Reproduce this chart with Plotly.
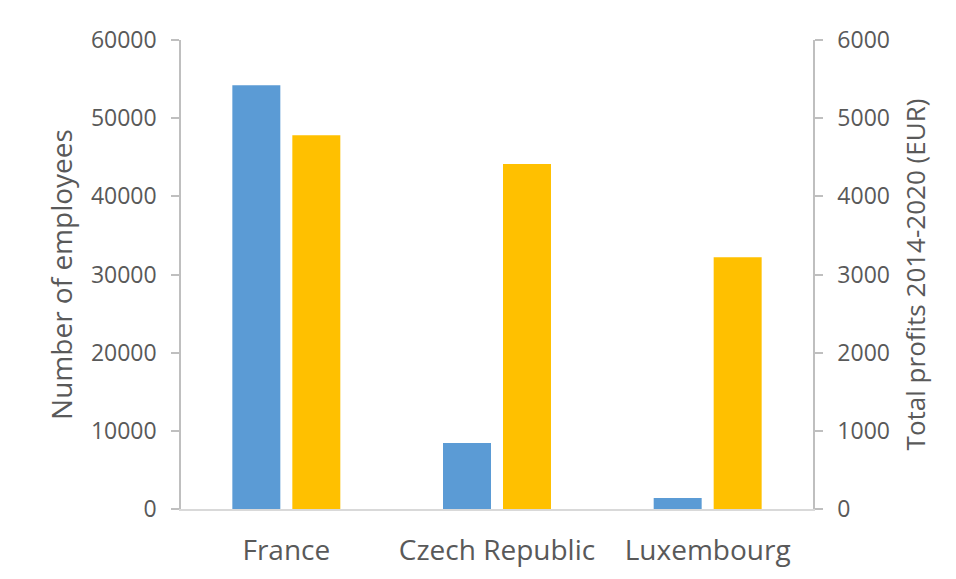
import plotly.graph_objects as go

countries = ["France", "Czech Republic", "Luxembourg"]
employees = [54200, 8450, 1400]
profits = [4780, 4415, 3220]

left_ticks = [0, 10000, 20000, 30000, 40000, 50000, 60000]
right_ticks = [0, 1000, 2000, 3000, 4000, 5000, 6000]

FONT = "Open Sans"
GRAY = "#595959"
LINE = "#BFBFBF"

fig = go.Figure()
fig.add_trace(go.Bar(x=countries, y=employees, name="Number of employees",
                     marker=dict(color="#5B9BD5", line=dict(width=0)),
                     offsetgroup="1", yaxis="y"))
fig.add_trace(go.Bar(x=countries, y=profits, name="Total profits 2014-2020 (EUR)",
                     marker=dict(color="#FFC000", line=dict(width=0)),
                     offsetgroup="2", yaxis="y2"))

fig.update_layout(
    width=956, height=579,
    margin=dict(l=181, r=143, t=40, b=70),
    paper_bgcolor="white", plot_bgcolor="white",
    showlegend=False,
    barmode="group", bargap=0.4305, bargroupgap=0.2,
    font=dict(family=FONT, color=GRAY),
    xaxis=dict(showline=True, linecolor="#D9D9D9", linewidth=1.5,
               showgrid=False, ticks="", tickfont=dict(size=28, color=GRAY, family=FONT),
               ticklabelstandoff=16, zeroline=False),
    yaxis=dict(range=[0, 60000], tickvals=left_ticks, ticktext=[str(v) for v in left_ticks],
               showline=True, linecolor=LINE, linewidth=1.5,
               ticks="outside", ticklen=8, tickcolor=LINE, tickwidth=1.5,
               showgrid=False, zeroline=False,
               tickfont=dict(size=23, color=GRAY, family=FONT),
               ticklabelstandoff=10,
               title=dict(text="Number of employees", font=dict(size=28, color=GRAY, family=FONT),
                          standoff=10)),
    yaxis2=dict(range=[0, 6000], tickvals=right_ticks, ticktext=[str(v) for v in right_ticks],
                overlaying="y", side="right",
                showline=True, linecolor=LINE, linewidth=1.5,
                ticks="outside", ticklen=8, tickcolor=LINE, tickwidth=1.5,
                showgrid=False, zeroline=False,
                tickfont=dict(size=23, color=GRAY, family=FONT),
                ticklabelstandoff=10,
                title=dict(text="Total profits 2014-2020 (EUR)", font=dict(size=26, color=GRAY, family=FONT),
                           standoff=18)),
)

fig.write_html("out.html")
